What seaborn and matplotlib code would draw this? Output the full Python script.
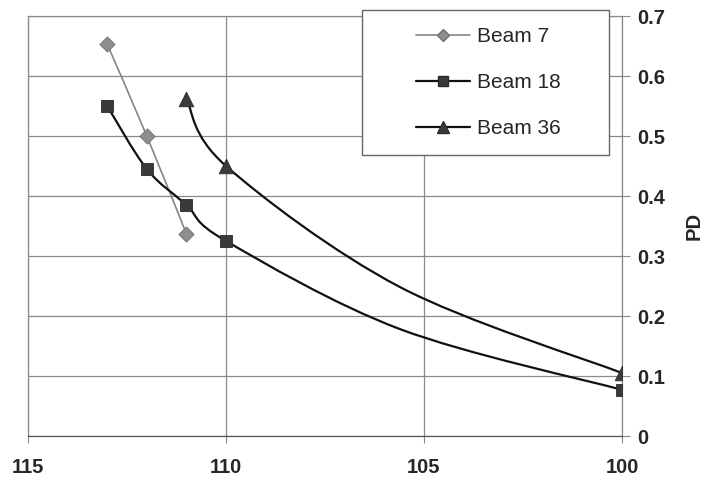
import numpy as np
import matplotlib
matplotlib.use("Agg")
import matplotlib.pyplot as plt
from matplotlib.path import Path
from matplotlib.patches import PathPatch, Rectangle
from matplotlib.lines import Line2D
from matplotlib.font_manager import FontProperties
import seaborn as sns

# =====================================
# Data
# =====================================
series_names = ["Beam 7", "Beam 18", "Beam 36"]

beam7_x = [113, 112, 111]
beam7_pd = [0.653, 0.500, 0.337]

beam18_x = [113, 112, 111, 110, 100]
beam18_pd = [0.550, 0.445, 0.385, 0.325, 0.077]

beam36_x = [111, 110, 100]
beam36_pd = [0.562, 0.450, 0.105]

# the smoothed lines bend near x=105.6 where no marker is shown
beam18_knot_x, beam18_knot_pd = [105.6], [0.178]
beam36_knot_x, beam36_knot_pd = [105.6], [0.248]

x_ticks = [115, 110, 105, 100]
x_tick_labels = ["115", "110", "105", "100"]
y_ticks = [0, 0.1, 0.2, 0.3, 0.4, 0.5, 0.6, 0.7]
y_tick_labels = ["0", "0.1", "0.2", "0.3", "0.4", "0.5", "0.6", "0.7"]


def smooth_path(xs, ys):
    # Excel-style smoothed line: cubic bezier through the points
    pts = np.column_stack([xs, ys]).astype(float)
    order = np.argsort(-pts[:, 0])
    pts = pts[order]
    n = len(pts)
    verts = [pts[0]]
    codes = [Path.MOVETO]
    for i in range(n - 1):
        p0 = pts[i - 1] if i > 0 else pts[i]
        p1, p2 = pts[i], pts[i + 1]
        p3 = pts[i + 2] if i + 2 < n else pts[i + 1]
        verts += [p1 + (p2 - p0) / 6, p2 - (p3 - p1) / 6, p2]
        codes += [Path.CURVE4] * 3
    return Path(verts, codes)


# =====================================
# Style
# =====================================
sns.set_style("white")
plt.rcParams["font.family"] = ["Liberation Sans", "DejaVu Sans"]

grid_col = "#8a8a8a"
fig = plt.figure(figsize=(7.1, 4.78), dpi=100)
ax = fig.add_axes([28 / 710, 42 / 478, 594 / 710, 420 / 478])

# =====================================
# Lines and markers
# =====================================
styles = [
    dict(line="#858585", lw=1.2, marker="D", s=60, face="#8e8e8e", edge="#6e6e6e"),
    dict(line="#111111", lw=1.6, marker="s", s=82, face="#3a3a3a", edge="#2a2a2a"),
    dict(line="#111111", lw=1.6, marker="^", s=110, face="#3a3a3a", edge="#2a2a2a"),
]

line_sets = [
    (beam7_x, beam7_pd),
    (beam18_x + beam18_knot_x, beam18_pd + beam18_knot_pd),
    (beam36_x + beam36_knot_x, beam36_pd + beam36_knot_pd),
]
marker_sets = [(beam7_x, beam7_pd), (beam18_x, beam18_pd), (beam36_x, beam36_pd)]

for (lx, ly), (mx, my), st in zip(line_sets, marker_sets, styles):
    patch = PathPatch(smooth_path(lx, ly), fill=False, edgecolor=st["line"],
                      lw=st["lw"], zorder=3, capstyle="round", joinstyle="round")
    ax.add_patch(patch)
    sns.scatterplot(x=mx, y=my, marker=st["marker"], s=st["s"], color=st["face"],
                    edgecolor=st["edge"], linewidth=0.6, ax=ax, zorder=4, legend=False)

# =====================================
# Axes
# =====================================
ax.set_xlim(115, 100)
ax.set_ylim(0, 0.7)
ax.set_xticks(x_ticks)
ax.set_xticklabels(x_tick_labels, fontsize=14.5, fontweight="bold")
ax.set_yticks(y_ticks)
ax.set_yticklabels(y_tick_labels, fontsize=14.5, fontweight="bold")
ax.yaxis.tick_right()
ax.yaxis.set_label_position("right")
ax.set_ylabel("PD", fontsize=14.5, fontweight="bold", labelpad=14)
ax.set_xlabel("")

ax.grid(True, color=grid_col, lw=0.9)
ax.set_axisbelow(True)
for side in ["left", "top", "right", "bottom"]:
    ax.spines[side].set_visible(True)
    ax.spines[side].set_color(grid_col)
    ax.spines[side].set_linewidth(0.9)
ax.spines["bottom"].set_color("#555555")

ax.tick_params(axis="x", direction="out", length=5, color=grid_col, pad=11, bottom=True)
ax.tick_params(axis="y", direction="out", length=6, color=grid_col, pad=5, right=True, left=False)

# =====================================
# Legend (box drawn separately for the wide padding)
# =====================================
box = Rectangle((0.562, 0.669), 0.416, 0.345, transform=ax.transAxes,
                facecolor="white", edgecolor="#666666", lw=1.0, zorder=5, clip_on=False)
ax.add_patch(box)

handles = [
    Line2D([], [], color=st["line"], lw=st["lw"], marker=st["marker"],
           markersize=np.sqrt(st["s"]) * 0.8, markerfacecolor=st["face"],
           markeredgecolor=st["edge"])
    for st in styles
]
leg = ax.legend(handles, series_names, loc="center", bbox_to_anchor=(0.775, 0.8415),
                frameon=False, handlelength=2.6, handletextpad=0.3, labelspacing=1.3,
                prop=FontProperties(family=["Liberation Sans", "DejaVu Sans"], size=15))
leg.set_zorder(6)

plt.savefig("out.png", dpi=100)
